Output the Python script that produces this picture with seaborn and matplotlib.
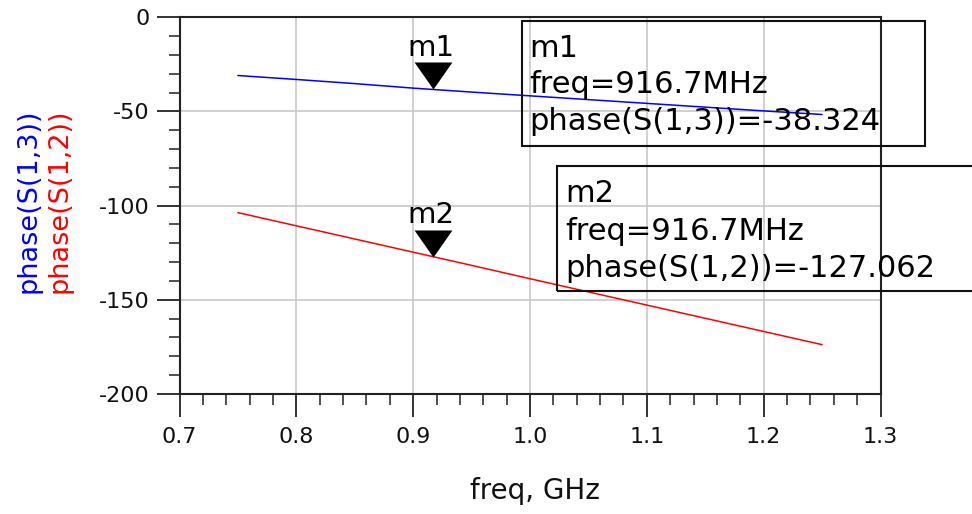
import numpy as np
import pandas as pd
import matplotlib
matplotlib.use("Agg")
import matplotlib.pyplot as plt
import seaborn as sns
from matplotlib.patches import Rectangle
from matplotlib.ticker import FixedLocator, MultipleLocator

# ---------------- data ----------------
freq_ghz = [0.75, 0.80, 0.85, 0.90, 0.95, 1.00, 1.05, 1.10, 1.15, 1.20, 1.25]
phase_s13 = [-30.9, -33.0, -35.2, -37.6, -39.7, -41.7, -43.7, -45.7, -47.7, -49.7, -51.6]
phase_s12 = [-103.7, -110.7, -117.7, -124.7, -131.7, -138.8, -145.8, -152.8, -159.8, -166.8, -173.8]

trace_names = ["phase(S(1,3))", "phase(S(1,2))"]
trace_colors = ["#0000ff", "#ff0000"]

marker_names = ["m1", "m2"]
marker_freq = [0.9167, 0.9167]
marker_phase = [-38.324, -127.062]
marker_freq_text = ["916.7MHz", "916.7MHz"]
marker_value_text = ["-38.324", "-127.062"]

x_ticks = [0.7, 0.8, 0.9, 1.0, 1.1, 1.2, 1.3]
x_tick_labels = ["0.7", "0.8", "0.9", "1.0", "1.1", "1.2", "1.3"]
y_ticks = [0, -50, -100, -150, -200]
y_tick_labels = ["0", "-50", "-100", "-150", "-200"]

# ---------------- style ----------------
sns.set_theme(style="white")
plt.rcParams["font.family"] = ["DejaVu Sans"]
plt.rcParams["axes.unicode_minus"] = False

W, H = 972, 514
fig = plt.figure(figsize=(W / 100, H / 100), dpi=100)
ax = fig.add_axes([179.5 / W, 1 - 394 / H, 701 / W, (394 - 17.3) / H])

df = pd.DataFrame({
    "freq": freq_ghz * 2,
    "phase": phase_s13 + phase_s12,
    "trace": [trace_names[0]] * len(freq_ghz) + [trace_names[1]] * len(freq_ghz),
})
sns.lineplot(data=df, x="freq", y="phase", hue="trace",
             palette=dict(zip(trace_names, trace_colors)),
             ax=ax, legend=False, linewidth=1.1, zorder=3)

ax.set_xlim(0.7, 1.3)
ax.set_ylim(-200, 0)
ax.xaxis.set_major_locator(FixedLocator(x_ticks))
ax.set_xticklabels(x_tick_labels)
ax.xaxis.set_minor_locator(MultipleLocator(0.02))
ax.yaxis.set_major_locator(FixedLocator(y_ticks))
ax.set_yticklabels(y_tick_labels)
ax.yaxis.set_minor_locator(MultipleLocator(10))

ax.tick_params(which="major", direction="out", length=16.5, width=1.4,
               color="#333333", labelsize=16, labelcolor="#111111")
ax.tick_params(axis="x", which="major", pad=7)
ax.tick_params(axis="y", which="major", pad=5)
ax.tick_params(which="minor", direction="out", length=8, width=1.2, color="#333333")
ax.tick_params(left=True, bottom=True, which="both")

ax.grid(which="major", color="#c8c8c8", linewidth=1.2)
ax.grid(which="minor", visible=False)
for s in ax.spines.values():
    s.set_visible(True)
    s.set_color("#222222")
    s.set_linewidth(1.5)

ax.set_xlabel("")
ax.set_ylabel("")

# markers: downward triangle with tip on the data point
tri = [(-0.7, 1.0), (0.7, 1.0), (0.0, 0.0), (-0.7, 1.0)]
ax.plot(marker_freq, marker_phase, linestyle="none", marker=tri,
        markersize=38.9, color="black", markeredgewidth=0, zorder=5, clip_on=False)
for name, f, p in zip(marker_names, marker_freq, marker_phase):
    ax.annotate(name, (f, p), xytext=(-1.5, 24), textcoords="offset points",
                ha="center", va="baseline", fontsize=21, color="black", zorder=6)

# marker readout boxes (figure pixel layout)
def fx(x):
    return x / W

def fy(y):
    return 1 - y / H

boxes = [(521.7, 20.7, 925.0, 145.7), (557.3, 165.7, 990.0, 290.7)]
text_left = [529, 565]
baselines = [(56.7, 93.0, 130.0), (201.7, 240.0, 276.7)]
for i in range(2):
    x0, y0, x1, y1 = boxes[i]
    fig.add_artist(Rectangle((fx(x0), fy(y1)), (x1 - x0) / W, (y1 - y0) / H,
                             fill=False, edgecolor="#111111", linewidth=1.5,
                             transform=fig.transFigure, zorder=10))
    lines = [marker_names[i],
             "freq=" + marker_freq_text[i],
             trace_names[i] + "=" + marker_value_text[i]]
    for txt, b in zip(lines, baselines[i]):
        fig.text(fx(text_left[i]), fy(b), txt, fontsize=22, va="baseline",
                 ha="left", color="black", zorder=11)

# axis titles
fig.text(fx(535), fy(499), "freq, GHz", fontsize=20, ha="center", va="baseline",
         color="#111111")
fig.text(fx(28), fy(201), trace_names[0], rotation=90, fontsize=19.5,
         ha="center", va="center", color=trace_colors[0])
fig.text(fx(59.5), fy(201), trace_names[1], rotation=90, fontsize=19.5,
         ha="center", va="center", color=trace_colors[1])

fig.savefig("out.png", dpi=100)
